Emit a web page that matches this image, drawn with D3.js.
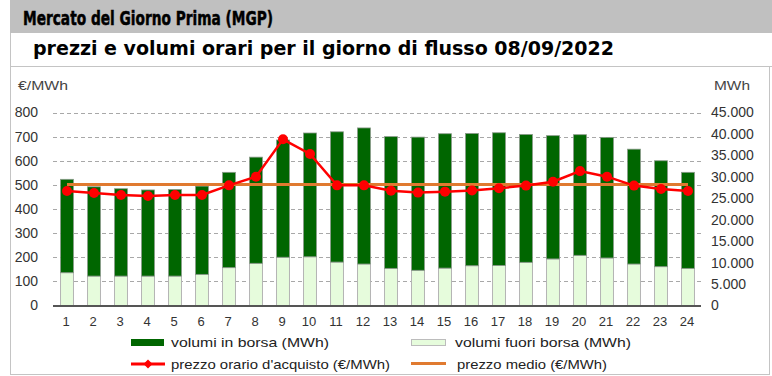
<!DOCTYPE html>
<html>
<head>
<meta charset="utf-8">
<script src="https://cdn.jsdelivr.net/npm/d3@7"></script>
<style>
body { margin: 0; background: #ffffff; }
</style>
</head>
<body>
<div id="chart"></div>
<script>
var ore = ['1','2','3','4','5','6','7','8','9','10','11','12','13','14','15','16','17','18','19','20','21','22','23','24'];
var volumiInBorsa = [21770, 20815, 20365, 20080, 20200, 20580, 22220, 24750, 27340, 28860, 30375, 31725, 30715, 31050, 31330, 30830, 30935, 29810, 28740, 28125, 28120, 26775, 24690, 22390];
var volumiFuoriBorsa = [7650, 6860, 6860, 6860, 6860, 7260, 8830, 9840, 11250, 11360, 10125, 9675, 8660, 8210, 8720, 9280, 9340, 10070, 10860, 11700, 11080, 9675, 9060, 8660];
var prezzoOrario = [474.5, 466, 458, 454, 458, 458, 498, 534, 689, 628, 498, 498, 476, 468, 472, 477, 486, 497, 513, 557, 534, 497, 483, 474.5];
var prezzoMedio = 502;
var tickPrezzo = [0, 100, 200, 300, 400, 500, 600, 700, 800];
var tickVolumi = [0, 5000, 10000, 15000, 20000, 25000, 30000, 35000, 40000, 45000];

var w = 772; var h = 376;
var font = '"Liberation Sans", Arial, sans-serif';
var titleFont = '"DejaVu Sans Condensed", "DejaVu Sans", sans-serif';

var svg = d3.select('#chart')
			.append('svg')
			.attr('width', w)
			.attr('height', h);

// frame and title
svg.append('rect').attr('x', 10).attr('y', 0).attr('width', w - 10).attr('height', 33).attr('fill', '#c0c0c0');
svg.append('line').attr('x1', 10.5).attr('x2', 10.5).attr('y1', 33).attr('y2', 375).attr('stroke', '#c4c4c4');
svg.append('line').attr('x1', 10).attr('x2', w).attr('y1', 66.5).attr('y2', 66.5).attr('stroke', '#c4c4c4');
svg.append('line').attr('x1', 769.5).attr('x2', 769.5).attr('y1', 66).attr('y2', 375).attr('stroke', '#c4c4c4');
svg.append('line').attr('x1', 10).attr('x2', 770).attr('y1', 374.5).attr('y2', 374.5).attr('stroke', '#c4c4c4');

svg.append('text').text('Mercato del Giorno Prima (MGP)')
	.attr('x', 23).attr('y', 25)
	.attr('font-family', titleFont).attr('font-weight', 'bold').attr('font-size', 20)
	.attr('stroke', '#000').attr('stroke-width', 0.5)
	.attr('textLength', 250).attr('lengthAdjust', 'spacingAndGlyphs');
svg.append('text').text('prezzi e volumi orari per il giorno di flusso 08/09/2022')
	.attr('x', 33).attr('y', 55)
	.attr('font-family', titleFont).attr('font-weight', 'bold').attr('font-size', 20)
	.attr('textLength', 581).attr('lengthAdjust', 'spacingAndGlyphs');

// scales
var x = d3.scaleBand()
			.domain(ore)
			.range([53.5, 701.5])
			.paddingInner(0.52)
			.paddingOuter(0.26);
var yPrezzo = d3.scaleLinear().domain([0, 800]).range([305.5, 112.5]);
var yVolumi = d3.scaleLinear().domain([0, 45000]).range([305.5, 112.5]);
var it = d3.formatLocale({decimal: ',', thousands: '.', grouping: [3], currency: ['', '€']});

// grid
svg.selectAll('line.grid')
	.data(tickPrezzo.slice(1))
	.enter()
	.append('line')
	.attr('class', 'grid')
	.attr('x1', 53).attr('x2', 701)
	.attr('y1', function(d) { return Math.round(yPrezzo(d)) + 0.5; })
	.attr('y2', function(d) { return Math.round(yPrezzo(d)) + 0.5; })
	.attr('stroke', '#a8a8a8')
	.attr('stroke-dasharray', '4,3');

// axes
var axisLeft = svg.append('g')
	.attr('transform', 'translate(38,0)')
	.call(d3.axisLeft(yPrezzo).tickValues(tickPrezzo).tickSize(0).tickPadding(0));
var axisRight = svg.append('g')
	.attr('transform', 'translate(711,0)')
	.call(d3.axisRight(yVolumi).tickValues(tickVolumi).tickSize(0).tickPadding(0).tickFormat(it.format(',.0f')));
var axisBottom = svg.append('g')
	.attr('transform', 'translate(-1,317)')
	.call(d3.axisBottom(x).tickSize(0).tickPadding(0));

[axisLeft, axisRight, axisBottom].forEach(function(g) {
	g.select('.domain').remove();
	g.selectAll('text')
		.attr('font-family', font)
		.attr('font-size', 14)
		.attr('fill', '#333');
});
axisBottom.selectAll('text').attr('font-size', 13).attr('dy', '0.71em');

svg.append('text').text('€/MWh')
	.attr('x', 18).attr('y', 90)
	.attr('font-family', font).attr('font-size', 12).attr('fill', '#444')
	.attr('textLength', 50).attr('lengthAdjust', 'spacingAndGlyphs');
svg.append('text').text('MWh')
	.attr('x', 714).attr('y', 90)
	.attr('font-family', font).attr('font-size', 12).attr('fill', '#444')
	.attr('textLength', 36).attr('lengthAdjust', 'spacingAndGlyphs');

// stacked bars
var bars = svg.append('g');
bars.selectAll('rect.fuori')
	.data(volumiFuoriBorsa)
	.enter()
	.append('rect')
	.attr('class', 'fuori')
	.attr('x', function(d, i) { return x(ore[i]); })
	.attr('width', x.bandwidth())
	.attr('y', function(d) { return yVolumi(d); })
	.attr('height', function(d) { return yVolumi(0) - yVolumi(d); })
	.attr('fill', '#e6fcdc')
	.attr('stroke', '#b4b4b4')
	.attr('stroke-width', 1);
bars.selectAll('rect.borsa')
	.data(volumiInBorsa)
	.enter()
	.append('rect')
	.attr('class', 'borsa')
	.attr('x', function(d, i) { return x(ore[i]); })
	.attr('width', x.bandwidth())
	.attr('y', function(d, i) { return yVolumi(d + volumiFuoriBorsa[i]); })
	.attr('height', function(d) { return yVolumi(0) - yVolumi(d); })
	.attr('fill', '#006600')
	.attr('stroke', '#8a9a8a')
	.attr('stroke-width', 0.8);

// baseline
svg.append('line').attr('x1', 53).attr('x2', 701).attr('y1', 306).attr('y2', 306)
	.attr('stroke', '#555').attr('stroke-width', 2);

// average price
svg.append('line')
	.attr('x1', x(ore[0]) + x.bandwidth() / 2)
	.attr('x2', x(ore[ore.length - 1]) + x.bandwidth() / 2)
	.attr('y1', yPrezzo(prezzoMedio)).attr('y2', yPrezzo(prezzoMedio))
	.attr('stroke', '#e07a30').attr('stroke-width', 3);

// hourly price
var line = d3.line()
	.x(function(d, i) { return x(ore[i]) + x.bandwidth() / 2; })
	.y(function(d) { return yPrezzo(d); });
svg.append('path')
	.datum(prezzoOrario)
	.attr('d', line)
	.attr('fill', 'none')
	.attr('stroke', '#ff0000')
	.attr('stroke-width', 2.5);
svg.selectAll('circle.prezzo')
	.data(prezzoOrario)
	.enter()
	.append('circle')
	.attr('class', 'prezzo')
	.attr('cx', function(d, i) { return x(ore[i]) + x.bandwidth() / 2; })
	.attr('cy', function(d) { return yPrezzo(d); })
	.attr('r', 5)
	.attr('fill', '#ff0000');

// legend
var legend = svg.append('g').attr('font-family', font).attr('font-size', 13).attr('fill', '#222');
legend.append('rect').attr('x', 131).attr('y', 339).attr('width', 33).attr('height', 7).attr('fill', '#006600');
legend.append('text').text('volumi in borsa (MWh)').attr('x', 171).attr('y', 347)
	.attr('textLength', 158).attr('lengthAdjust', 'spacingAndGlyphs');
legend.append('rect').attr('x', 411.5).attr('y', 339.5).attr('width', 34).attr('height', 6).attr('fill', '#e6fcdc').attr('stroke', '#bcbcbc');
legend.append('text').text('volumi fuori borsa (MWh)').attr('x', 455).attr('y', 347)
	.attr('textLength', 176).attr('lengthAdjust', 'spacingAndGlyphs');
legend.append('line').attr('x1', 131).attr('x2', 165).attr('y1', 364).attr('y2', 364).attr('stroke', '#ff0000').attr('stroke-width', 3);
legend.append('path').attr('d', 'M148,359.5 L152.5,364 L148,368.5 L143.5,364 Z').attr('fill', '#ff0000');
legend.append('text').text("prezzo orario d'acquisto (€/MWh)").attr('x', 171).attr('y', 369)
	.attr('textLength', 219).attr('lengthAdjust', 'spacingAndGlyphs');
legend.append('line').attr('x1', 411).attr('x2', 446).attr('y1', 363.5).attr('y2', 363.5).attr('stroke', '#e07a30').attr('stroke-width', 3);
legend.append('text').text('prezzo medio (€/MWh)').attr('x', 457).attr('y', 369)
	.attr('textLength', 150).attr('lengthAdjust', 'spacingAndGlyphs');
</script>
</body>
</html>
